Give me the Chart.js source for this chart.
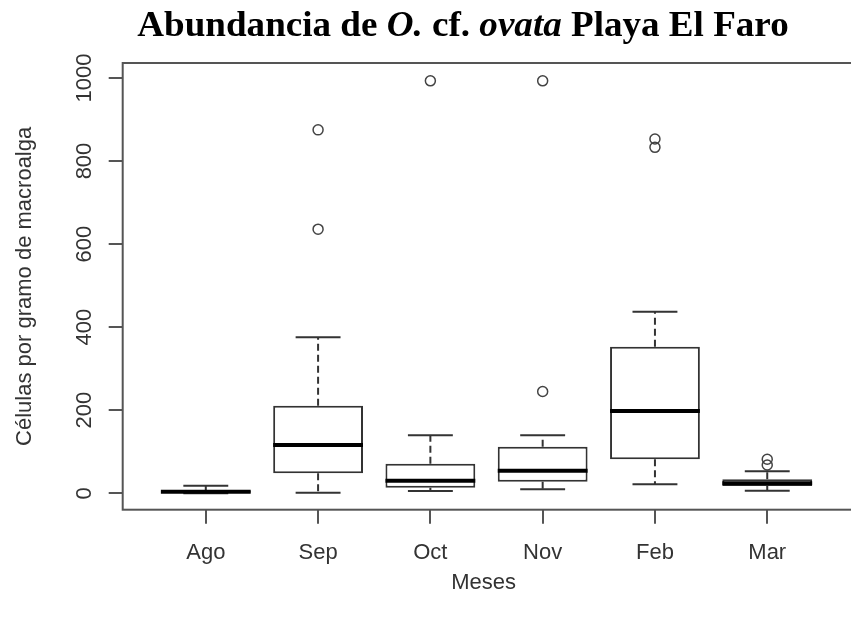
<!DOCTYPE html>
<html>
<head>
<meta charset="utf-8">
<script src="https://cdn.jsdelivr.net/npm/chart.js@4"></script>
<style>
  html, body { margin: 0; padding: 0; background: #fff; }
  #wrap { position: relative; width: 851px; height: 623px; overflow: hidden; }
  #title {
    position: absolute; top: 6px; left: 463px;
    transform: translateX(-50%) scaleX(1.03);
    white-space: nowrap;
    font: bold 36px "Liberation Serif", "Times New Roman", serif;
    line-height: 36px; color: #000;
  }
  canvas { position: absolute; top: 0; left: 0; }
</style>
</head>
<body>
<div id="wrap">
  <canvas id="boxChart" width="851" height="623"></canvas>
  <div id="title">Abundancia de <i>O.</i> cf. <i>ovata</i> Playa El Faro</div>
</div>
<script>
// ========== Data ==========
const months = ["Ago", "Sep", "Oct", "Nov", "Feb", "Mar"];
const whiskerLow = [0, 1.5, 5.5, 10, 22, 6];
const q1 = [1.5, 48, 13.5, 28, 82, 17.5];
const medians = [3.5, 116, 30, 54, 198, 24];
const q3 = [6, 211, 71, 112, 353, 34];
const whiskerHigh = [18, 376, 140, 140, 437, 53];
const outliers = [[], [636, 875], [993], [245, 993], [833, 853], [68, 82]];
const yTicks = [0, 200, 400, 600, 800, 1000];

const lineColor = "#333";
const textColor = "#333";

// ========== Datasets built from the arrays ==========
const boxData = months.map((m, i) => ({ x: i + 1, y: [q1[i], q3[i]] }));
const outlierData = [];
outliers.forEach((vals, i) => vals.forEach((v) => outlierData.push({ x: i + 1, y: v })));

// ========== Plugin: frame, whiskers, medians, rotated y labels ==========
const boxplotExtras = {
  id: "boxplotExtras",
  afterDatasetsDraw(chart) {
    const { ctx, chartArea, scales: { x, y } } = chart;
    const half = (x.getPixelForValue(1.4) - x.getPixelForValue(1)); // box half width (0.4)
    const capHalf = half / 2;

    ctx.save();
    ctx.strokeStyle = lineColor;
    months.forEach((m, i) => {
      const cx = x.getPixelForValue(i + 1);
      // whiskers (dashed)
      ctx.lineWidth = 2;
      ctx.setLineDash([7, 4]);
      ctx.beginPath();
      ctx.moveTo(cx, y.getPixelForValue(q3[i]));
      ctx.lineTo(cx, y.getPixelForValue(whiskerHigh[i]));
      ctx.moveTo(cx, y.getPixelForValue(q1[i]));
      ctx.lineTo(cx, y.getPixelForValue(whiskerLow[i]));
      ctx.stroke();
      // caps
      ctx.setLineDash([]);
      ctx.beginPath();
      [whiskerHigh[i], whiskerLow[i]].forEach((v) => {
        const py = y.getPixelForValue(v);
        ctx.moveTo(cx - capHalf, py);
        ctx.lineTo(cx + capHalf, py);
      });
      ctx.stroke();
      // median
      ctx.strokeStyle = "#000";
      ctx.lineWidth = 4;
      ctx.beginPath();
      const my = y.getPixelForValue(medians[i]);
      ctx.moveTo(cx - half, my);
      ctx.lineTo(cx + half, my);
      ctx.stroke();
      ctx.strokeStyle = lineColor;
    });

    // frame round the plot region
    ctx.strokeStyle = "#555";
    ctx.lineWidth = 2;
    ctx.strokeRect(chartArea.left, chartArea.top, chartArea.right - chartArea.left + 10, chartArea.bottom - chartArea.top);

    // rotated y tick labels
    ctx.fillStyle = textColor;
    ctx.font = "22px 'Liberation Sans', Arial, sans-serif";
    ctx.textAlign = "center";
    ctx.textBaseline = "middle";
    yTicks.forEach((v) => {
      ctx.save();
      ctx.translate(85, y.getPixelForValue(v));
      ctx.rotate(-Math.PI / 2);
      ctx.fillText(String(v), 0, 0);
      ctx.restore();
    });
    ctx.restore();
  },
};

// ========== Chart ==========
const ctx = document.getElementById("boxChart").getContext("2d");
new Chart(ctx, {
  type: "bar",
  data: {
    datasets: [
      {
        type: "scatter",
        data: outlierData,
        pointStyle: "circle",
        pointRadius: 5,
        pointBorderWidth: 1.5,
        pointBorderColor: "#444",
        pointBackgroundColor: "rgba(255,255,255,0)",
      },
      {
        type: "bar",
        data: boxData,
        backgroundColor: "#fff",
        borderColor: lineColor,
        borderWidth: 2,
        borderSkipped: false,
        categoryPercentage: 1,
        barPercentage: 0.8,
      },
    ],
  },
  plugins: [boxplotExtras],
  options: {
    responsive: false,
    animation: false,
    events: [],
    layout: { padding: { top: 63, right: 0, left: 0, bottom: 0 } },
    plugins: { legend: { display: false }, tooltip: { enabled: false } },
    scales: {
      x: {
        type: "linear",
        min: 0.26,
        max: 6.688,
        offset: false,
        afterBuildTicks: (s) => { s.ticks = months.map((m, i) => ({ value: i + 1 })); },
        afterFit: (s) => { s.height = 113.3; },
        ticks: {
          callback: (v) => months[v - 1],
          color: textColor,
          font: { family: "'Liberation Sans', Arial, sans-serif", size: 22 },
          padding: 16,
          maxRotation: 0,
          autoSkip: false,
        },
        grid: { offset: false, drawOnChartArea: false, drawTicks: true, tickLength: 14, color: "#555", lineWidth: 2 },
        border: { display: false },
        title: {
          display: true,
          text: "Meses",
          color: textColor,
          font: { family: "'Liberation Sans', Arial, sans-serif", size: 22 },
          padding: { top: 0, bottom: 27 },
        },
      },
      y: {
        min: -39.5,
        max: 1036,
        afterBuildTicks: (s) => { s.ticks = yTicks.map((v) => ({ value: v })); },
        afterFit: (s) => { s.width = 122.7; },
        ticks: { display: false },
        grid: { drawOnChartArea: false, drawTicks: true, tickLength: 14, color: "#555", lineWidth: 2 },
        border: { display: false },
        title: {
          display: true,
          text: "Células por gramo de macroalga",
          color: textColor,
          font: { family: "'Liberation Sans', Arial, sans-serif", size: 22 },
          padding: { top: 12, bottom: 0 },
        },
      },
    },
  },
});
</script>
</body>
</html>
